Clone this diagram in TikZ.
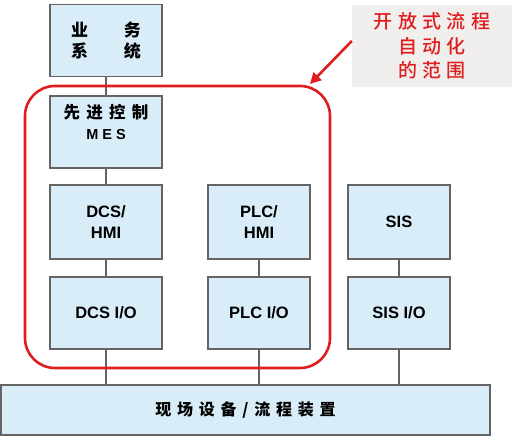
\documentclass[tikz,border=0pt]{standalone}
\usepackage{fontspec}
\setmainfont{Liberation Sans}
\newfontfamily\cjk{Noto Sans CJK SC}
\newfontfamily\cjkmed{Noto Sans CJK SC Medium}
\usetikzlibrary{positioning,arrows.meta}
\definecolor{boxfill}{RGB}{216,237,248}
\definecolor{boxline}{RGB}{100,100,100}
\definecolor{scopered}{RGB}{222,30,30}
\definecolor{notefill}{RGB}{240,239,237}
\newcommand{\zh}[2][0]{{\cjk\addfontfeature{LetterSpace=#1}#2}}
\tikzset{
  blk/.style={draw=boxline, fill=boxfill, line width=1.2pt, inner sep=0pt,
    minimum width=112pt, minimum height=72pt, align=center,
    font=\bfseries\fontsize{16.5}{21}\selectfont},
  narrow/.style={blk, minimum width=102pt, minimum height=74pt},
  link/.style={draw=boxline, line width=1.2pt}
}

\begin{document}
\begin{tikzpicture}[x=1pt,y=-1pt]
      \useasboundingbox[fill=white] (0,0) rectangle (517,443);
      % left column
      \node [blk] (Biz) at (106,40.5)
      {\fontsize{17}{21}\selectfont\zh{业\hspace{36pt}务}\\\fontsize{17}{21}\selectfont\zh{系\hspace{36pt}统}};
      \node [blk, on grid, below=91.5pt of Biz] (Mes)
      {\fontsize{16.5}{21}\selectfont\zh[38]{先进控制}\\\fontsize{14.5}{21}\selectfont M E S\\\mbox{}};
      \node [blk, on grid, below=90pt of Mes, minimum height=74pt] (DcsHmi) {DCS/\\HMI};
      \node [blk, on grid, below=91pt of DcsHmi] (DcsIo) {DCS I/O};
      % PLC and SIS columns
      \node [narrow, on grid, right=153pt of DcsHmi] (PlcHmi) {PLC/\\HMI};
      \node [narrow, on grid, below=91pt of PlcHmi, minimum height=72pt] (PlcIo) {PLC I/O};
      \node [narrow, on grid, right=140pt of PlcHmi] (Sis) {SIS};
      \node [narrow, on grid, below=91pt of Sis, minimum height=72pt] (SisIo) {SIS I/O};
      % field level
      \node [blk, minimum width=489pt, minimum height=50pt] (Field) at (245.5,410)
      {\fontsize{16}{20}\selectfont\zh[36]{现场设备/流程装置}};

      \draw [link] (Biz) -- (Mes);
      \draw [link] (Mes) -- (DcsHmi);
      \draw [link] (DcsHmi) -- (DcsIo);
      \draw [link] (PlcHmi) -- (PlcIo);
      \draw [link] (Sis) -- (SisIo);
      \draw [link] (DcsIo) -- (DcsIo |- Field.north);
      \draw [link] (PlcIo) -- (PlcIo |- Field.north);
      \draw [link] (SisIo) -- (SisIo |- Field.north);

      % scope of open automation
      \node [draw=scopered, line width=2.6pt, rounded corners=30pt,
        minimum width=305pt, minimum height=282pt] (Area) at (177.5,227) {};
      \node [fill=notefill, minimum width=160pt, minimum height=82pt, align=center,
        text=scopered, font=\cjkmed\fontsize{19}{24.5}\selectfont] (Note) at (432,46)
      {\addfontfeature{LetterSpace=28}开放式流程\\\addfontfeature{LetterSpace=28}自动化\\\addfontfeature{LetterSpace=28}的范围};
      \coordinate (Tip) at (310,84);
      \draw [scopered, line width=2.6pt, -{Triangle[length=11pt,width=11pt]}]
        ([yshift=5pt]Note.west) -- (Tip);
    \end{tikzpicture}
\end{document}
